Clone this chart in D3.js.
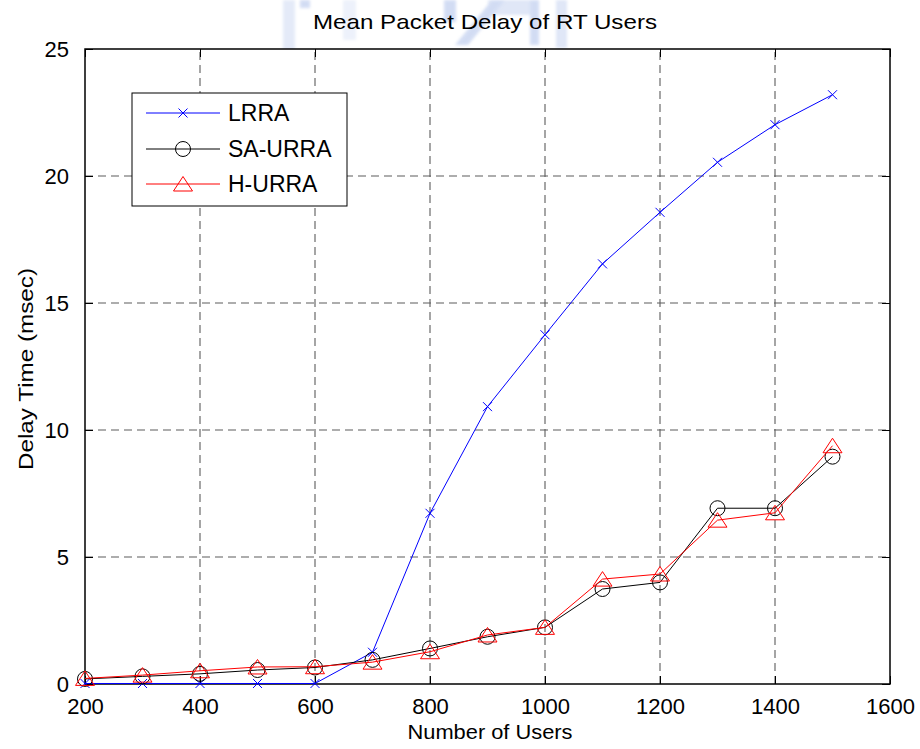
<!DOCTYPE html>
<html>
<head>
<meta charset="utf-8">
<script src="https://cdn.jsdelivr.net/npm/d3@7/dist/d3.min.js"></script>
<style>
  html, body { margin: 0; padding: 0; background: #fff; }
  svg { display: block; font-family: "Liberation Sans", Arial, sans-serif; }
</style>
</head>
<body>
<svg id="chart" width="920" height="749"></svg>
<script>
// Number of users on the x axis
const users = [200, 300, 400, 500, 600, 700, 800, 900, 1000, 1100, 1200, 1300, 1400, 1500];

// Mean packet delay (msec) for each scheme
const lrra   = [0.02, 0.02, 0.02, 0.02, 0.02, 1.25, 6.72, 10.92, 13.75, 16.54, 18.57, 20.54, 22.02, 23.2];
const saUrra = [0.2, 0.3, 0.4, 0.55, 0.65, 0.95, 1.4, 1.86, 2.23, 3.74, 4.0, 6.92, 6.92, 8.95];
const hUrra  = [0.22, 0.35, 0.52, 0.67, 0.68, 0.86, 1.27, 1.93, 2.23, 4.13, 4.33, 6.45, 6.74, 9.38];

// Tick labels
const xTicks = [200, 400, 600, 800, 1000, 1200, 1400, 1600];
const yTicks = [0, 5, 10, 15, 20, 25];

const seriesNames = ["LRRA", "SA-URRA", "H-URRA"];
const seriesColors = ["#0000ff", "#000000", "#ff0000"];
const seriesMarkers = ["cross", "circle", "triangle"];

const svg = d3.select("#chart");
const margin = { left: 85, right: 30, top: 49, bottom: 65 };
const W = 920, H = 749;

const x = d3.scaleLinear().domain([200, 1600]).range([margin.left, W - margin.right]);
const y = d3.scaleLinear().domain([0, 25]).range([H - margin.bottom, margin.top]);

// soft watermark emblem behind the title
const defs = svg.append("defs");
defs.append("filter").attr("id", "soft").append("feGaussianBlur").attr("stdDeviation", 1.6);
const wm = svg.append("g").attr("fill", "#a7bbe8").attr("opacity", 0.5).attr("filter", "url(#soft)");
wm.append("rect").attr("x", 283).attr("y", 0).attr("width", 12).attr("height", 55).attr("opacity", 0.6);
wm.append("rect").attr("x", 343).attr("y", 0).attr("width", 13).attr("height", 40).attr("opacity", 0.4);
wm.append("rect").attr("x", 300).attr("y", 0).attr("width", 10).attr("height", 8);
wm.append("rect").attr("x", 444).attr("y", 0).attr("width", 12).attr("height", 22);
wm.append("polygon").attr("points", "455,45 468,45 505,0 492,0");
wm.append("rect").attr("x", 488).attr("y", 0).attr("width", 48).attr("height", 15).attr("opacity", 0.7);
wm.append("rect").attr("x", 530).attr("y", 0).attr("width", 9).attr("height", 45);
wm.append("rect").attr("x", 556).attr("y", 0).attr("width", 11).attr("height", 48).attr("opacity", 0.7);

// plot background
svg.append("rect")
  .attr("x", x(200)).attr("y", y(25))
  .attr("width", x(1600) - x(200)).attr("height", y(0) - y(25))
  .attr("fill", "#fff");

// dashed grid
const grid = svg.append("g").attr("stroke", "#5c5c5c").attr("stroke-width", 1.1)
  .attr("stroke-dasharray", "8,5");
grid.selectAll("line.gx").data(xTicks.slice(1, -1)).join("line")
  .attr("x1", d => x(d)).attr("x2", d => x(d))
  .attr("y1", y(0)).attr("y2", y(25));
grid.selectAll("line.gy").data(yTicks.slice(1, -1)).join("line")
  .attr("y1", d => y(d)).attr("y2", d => y(d))
  .attr("x1", x(200)).attr("x2", x(1600));

// axes with inward ticks and a full frame
const fontSize = 22;
const xAxis = d3.axisBottom(x).tickValues(xTicks).tickSize(-8).tickPadding(14).tickFormat(d3.format("d"));
const yAxis = d3.axisLeft(y).tickValues(yTicks).tickSize(-8).tickPadding(16).tickFormat(d3.format("d"));

const gx = svg.append("g").attr("transform", `translate(0,${y(0)})`).call(xAxis);
const gy = svg.append("g").attr("transform", `translate(${x(200)},0)`).call(yAxis);
[gx, gy].forEach(g => {
  g.select(".domain").remove();
  g.selectAll("line").attr("stroke", "#000");
  g.selectAll("text").attr("font-size", fontSize).attr("fill", "#000")
    .attr("font-family", "Liberation Sans, Arial, sans-serif");
});
gx.selectAll("text").attr("dy", "0.71em");
// ticks on top and right edges
svg.append("g").attr("transform", `translate(0,${y(25)})`)
  .call(d3.axisTop(x).tickValues(xTicks).tickSize(-8).tickFormat(""))
  .call(g => g.select(".domain").remove())
  .selectAll("line").attr("stroke", "#000");
svg.append("g").attr("transform", `translate(${x(1600)},0)`)
  .call(d3.axisRight(y).tickValues(yTicks).tickSize(-8).tickFormat(""))
  .call(g => g.select(".domain").remove())
  .selectAll("line").attr("stroke", "#000");

svg.append("rect")
  .attr("x", x(200)).attr("y", y(25))
  .attr("width", x(1600) - x(200)).attr("height", y(0) - y(25))
  .attr("fill", "none").attr("stroke", "#000").attr("stroke-width", 1.5);

// marker drawing helper
function drawMarker(g, type, color) {
  if (type === "cross") {
    g.append("path").attr("d", "M-4.5,-4.5L4.5,4.5M-4.5,4.5L4.5,-4.5")
      .attr("stroke", color).attr("stroke-width", 1).attr("fill", "none");
  } else if (type === "circle") {
    g.append("circle").attr("r", 7.5)
      .attr("stroke", color).attr("stroke-width", 1).attr("fill", "none");
  } else {
    g.append("path").attr("d", "M0,-7.5L9.5,7L-9.5,7Z")
      .attr("stroke", color).attr("stroke-width", 1).attr("fill", "none");
  }
}

const allSeries = [lrra, saUrra, hUrra];
const line = d3.line().x((d, i) => x(users[i])).y(d => y(d));

allSeries.forEach((vals, k) => {
  const g = svg.append("g");
  g.append("path").datum(vals).attr("d", line)
    .attr("fill", "none").attr("stroke", seriesColors[k]).attr("stroke-width", 1);
  vals.forEach((v, i) => {
    const m = g.append("g").attr("transform", `translate(${x(users[i])},${y(v)})`);
    drawMarker(m, seriesMarkers[k], seriesColors[k]);
  });
});

// title and axis labels
svg.append("text").attr("x", 485).attr("y", 29).attr("text-anchor", "middle")
  .attr("font-size", 21).attr("textLength", 344).attr("lengthAdjust", "spacingAndGlyphs")
  .text("Mean Packet Delay of RT Users");
svg.append("text").attr("x", 490).attr("y", 739).attr("text-anchor", "middle")
  .attr("font-size", 21).attr("textLength", 165).attr("lengthAdjust", "spacingAndGlyphs")
  .text("Number of Users");
svg.append("text").attr("transform", "translate(33,369) rotate(-90)").attr("text-anchor", "middle")
  .attr("font-size", 21).attr("textLength", 202).attr("lengthAdjust", "spacingAndGlyphs")
  .text("Delay Time (msec)");

// legend
const lg = svg.append("g");
lg.append("rect").attr("x", 132).attr("y", 93).attr("width", 215).attr("height", 113)
  .attr("fill", "#fff").attr("stroke", "#000").attr("stroke-width", 1);
const rowsY = [113, 149, 184];
seriesNames.forEach((name, k) => {
  const row = lg.append("g").attr("transform", `translate(0,${rowsY[k]})`);
  row.append("line").attr("x1", 146).attr("x2", 220).attr("y1", 0).attr("y2", 0)
    .attr("stroke", seriesColors[k]).attr("stroke-width", 1);
  const m = row.append("g").attr("transform", "translate(183,0)");
  drawMarker(m, seriesMarkers[k], seriesColors[k]);
  row.append("text").attr("x", 228).attr("y", 0).attr("dy", "0.36em")
    .attr("font-size", 23).text(name);
});
</script>
</body>
</html>
